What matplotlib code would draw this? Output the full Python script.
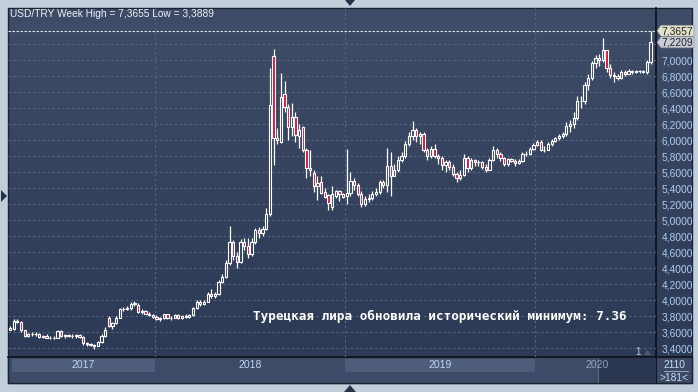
import numpy as np
import matplotlib
matplotlib.use("Agg")
import matplotlib.pyplot as plt
from matplotlib.patches import Rectangle, Polygon
from matplotlib.colors import LinearSegmentedColormap

# --- weekly USD/TRY candles (index 0 = first visible week, spring 2017) ---
opens = [3.63, 3.64, 3.74, 3.72, 3.62, 3.55, 3.58, 3.57, 3.58, 3.54,
         3.55, 3.53, 3.52, 3.53, 3.61, 3.55, 3.56, 3.55, 3.55, 3.56,
         3.54, 3.46, 3.45, 3.44, 3.43, 3.47, 3.55, 3.77, 3.67, 3.71,
         3.78, 3.89, 3.89, 3.90, 3.95, 3.94, 3.85, 3.86, 3.83, 3.81,
         3.79, 3.76, 3.77, 3.82, 3.77, 3.78, 3.81, 3.77, 3.80, 3.79,
         3.81, 3.90, 3.98, 3.95, 3.98, 4.08, 4.05, 4.07, 4.23, 4.29,
         4.46, 4.72, 4.55, 4.48, 4.73, 4.68, 4.57, 4.73, 4.87, 4.84,
         4.89, 5.08, 7.05, 6.03, 5.97, 6.57, 6.41, 6.16, 6.29, 6.05,
         6.16, 5.87, 5.62, 5.59, 5.43, 5.47, 5.35, 5.31, 5.16, 5.30,
         5.36, 5.32, 5.30, 5.34, 5.49, 5.44, 5.32, 5.20, 5.26, 5.28,
         5.33, 5.35, 5.47, 5.44, 5.68, 5.55, 5.62, 5.75, 5.80, 5.95,
         6.05, 6.12, 6.05, 6.08, 5.87, 5.80, 5.89, 5.80, 5.77, 5.69,
         5.73, 5.66, 5.58, 5.52, 5.56, 5.78, 5.65, 5.75, 5.72, 5.72,
         5.66, 5.63, 5.75, 5.87, 5.83, 5.77, 5.70, 5.76, 5.74, 5.71,
         5.74, 5.83, 5.83, 5.89, 5.94, 5.98, 5.88, 5.88, 5.95, 5.99,
         6.02, 6.05, 6.07, 6.18, 6.20, 6.28, 6.49, 6.49, 6.69, 6.78,
         6.96, 7.02, 7.00, 7.12, 6.90, 6.81, 6.80, 6.77, 6.85, 6.83,
         6.86, 6.85, 6.86, 6.86, 6.85, 6.98]
highs = [3.67, 3.76, 3.76, 3.74, 3.63, 3.59, 3.60, 3.60, 3.59, 3.56,
         3.57, 3.55, 3.55, 3.63, 3.63, 3.57, 3.57, 3.57, 3.57, 3.57,
         3.55, 3.47, 3.46, 3.45, 3.49, 3.57, 3.66, 3.80, 3.73, 3.80,
         3.90, 3.91, 3.92, 3.97, 3.99, 3.96, 3.89, 3.87, 3.85, 3.83,
         3.81, 3.79, 3.83, 3.83, 3.80, 3.82, 3.83, 3.81, 3.82, 3.83,
         3.91, 4.00, 4.00, 4.00, 4.10, 4.14, 4.10, 4.25, 4.32, 4.50,
         4.93, 4.75, 4.60, 4.76, 4.77, 4.77, 4.78, 4.90, 4.91, 4.93,
         5.15, 6.90, 7.14, 6.15, 6.84, 6.74, 6.45, 6.46, 6.35, 6.20,
         6.18, 5.90, 5.87, 5.62, 5.55, 5.55, 5.40, 5.33, 5.42, 5.38,
         5.38, 5.34, 5.89, 5.60, 5.52, 5.46, 5.36, 5.30, 5.32, 5.36,
         5.40, 5.50, 5.50, 5.90, 5.85, 5.70, 5.80, 5.85, 5.99, 6.10,
         6.24, 6.15, 6.10, 6.10, 5.90, 5.92, 5.95, 5.83, 5.80, 5.75,
         5.75, 5.70, 5.60, 5.62, 5.82, 5.80, 5.78, 5.76, 5.75, 5.74,
         5.70, 5.78, 5.92, 5.90, 5.85, 5.79, 5.78, 5.78, 5.76, 5.76,
         5.85, 5.86, 5.91, 5.96, 6.00, 6.00, 5.92, 5.97, 6.01, 6.04,
         6.07, 6.10, 6.22, 6.25, 6.35, 6.55, 6.55, 6.72, 6.82, 6.99,
         7.06, 7.08, 7.27, 7.13, 6.95, 6.85, 6.83, 6.88, 6.87, 6.89,
         6.88, 6.88, 6.87, 6.88, 7.00, 7.3657]
lows = [3.62, 3.62, 3.71, 3.60, 3.54, 3.54, 3.55, 3.55, 3.53, 3.52,
        3.52, 3.51, 3.51, 3.52, 3.54, 3.53, 3.54, 3.53, 3.53, 3.53,
        3.44, 3.43, 3.42, 3.3889, 3.42, 3.46, 3.54, 3.66, 3.64, 3.70,
        3.77, 3.86, 3.87, 3.88, 3.92, 3.84, 3.82, 3.82, 3.80, 3.78,
        3.75, 3.74, 3.76, 3.76, 3.75, 3.77, 3.76, 3.76, 3.77, 3.78,
        3.80, 3.89, 3.93, 3.94, 3.97, 4.03, 4.02, 4.06, 4.21, 4.28,
        4.44, 4.50, 4.40, 4.46, 4.62, 4.53, 4.55, 4.70, 4.78, 4.80,
        4.88, 5.05, 5.69, 5.95, 5.96, 6.35, 6.00, 6.05, 5.98, 5.90,
        5.85, 5.52, 5.55, 5.35, 5.25, 5.33, 5.27, 5.12, 5.12, 5.28,
        5.24, 5.27, 5.20, 5.30, 5.38, 5.30, 5.16, 5.18, 5.22, 5.25,
        5.30, 5.33, 5.40, 5.35, 5.30, 5.55, 5.60, 5.72, 5.78, 5.93,
        6.00, 5.98, 5.95, 5.85, 5.75, 5.78, 5.78, 5.70, 5.62, 5.60,
        5.62, 5.55, 5.48, 5.50, 5.55, 5.60, 5.63, 5.68, 5.68, 5.64,
        5.60, 5.62, 5.74, 5.78, 5.74, 5.68, 5.68, 5.72, 5.68, 5.70,
        5.73, 5.80, 5.81, 5.88, 5.92, 5.86, 5.85, 5.87, 5.93, 5.97,
        6.00, 6.03, 6.05, 6.10, 6.15, 6.25, 6.40, 6.45, 6.62, 6.75,
        6.90, 6.93, 6.98, 6.85, 6.78, 6.72, 6.75, 6.76, 6.80, 6.82,
        6.83, 6.84, 6.84, 6.84, 6.83, 6.95]
closes = [3.65, 3.74, 3.72, 3.62, 3.55, 3.58, 3.57, 3.58, 3.54, 3.55,
          3.53, 3.52, 3.53, 3.61, 3.55, 3.56, 3.55, 3.55, 3.56, 3.54,
          3.46, 3.45, 3.44, 3.43, 3.47, 3.55, 3.63, 3.67, 3.71, 3.78,
          3.89, 3.89, 3.90, 3.95, 3.96, 3.85, 3.86, 3.83, 3.81, 3.79,
          3.76, 3.77, 3.82, 3.77, 3.78, 3.81, 3.77, 3.80, 3.79, 3.81,
          3.90, 3.98, 3.95, 3.98, 4.08, 4.05, 4.07, 4.23, 4.29, 4.46,
          4.72, 4.55, 4.48, 4.73, 4.68, 4.57, 4.73, 4.87, 4.84, 4.89,
          5.08, 6.44, 6.03, 6.00, 6.54, 6.41, 6.16, 6.29, 6.06, 6.12,
          5.87, 5.65, 5.65, 5.42, 5.46, 5.34, 5.29, 5.21, 5.33, 5.36,
          5.32, 5.29, 5.34, 5.49, 5.44, 5.32, 5.20, 5.26, 5.28, 5.33,
          5.35, 5.47, 5.44, 5.68, 5.55, 5.62, 5.75, 5.80, 5.95, 6.05,
          6.12, 6.05, 6.08, 5.87, 5.80, 5.89, 5.80, 5.77, 5.69, 5.73,
          5.66, 5.58, 5.52, 5.56, 5.78, 5.65, 5.75, 5.72, 5.72, 5.66,
          5.63, 5.75, 5.87, 5.83, 5.77, 5.70, 5.76, 5.74, 5.71, 5.74,
          5.83, 5.83, 5.89, 5.94, 5.98, 5.88, 5.88, 5.95, 5.99, 6.02,
          6.05, 6.07, 6.18, 6.20, 6.28, 6.49, 6.49, 6.69, 6.78, 6.96,
          7.02, 7.00, 7.12, 6.90, 6.81, 6.80, 6.77, 6.85, 6.83, 6.86,
          6.85, 6.86, 6.86, 6.85, 6.98, 7.2209]

year_labels = ["2017", "2018", "2019", "2020"]
year_first_week = [0, 40, 92, 144]      # index of first candle of each year
y_ticks = [3.4, 3.6, 3.8, 4.0, 4.2, 4.4, 4.6, 4.8, 5.0, 5.2, 5.4, 5.6,
           5.8, 6.0, 6.2, 6.4, 6.6, 6.8, 7.0]
week_high = 7.3655
week_low = 3.3889
tag_high = 7.3657
tag_last = 7.2209
title = "USD/TRY Week High = 7,3655 Low = 3,3889"
note = "Турецкая лира обновила исторический минимум: 7.36"

W, H = 698, 392
fig = plt.figure(figsize=(W / 100, H / 100), dpi=100, facecolor="#c3cedb")
LABEL_FONT = ["Liberation Sans", "DejaVu Sans"]


def pix_axes(zorder):
    a = fig.add_axes([0, 0, 1, 1], zorder=zorder)
    a.set_xlim(0, W)
    a.set_ylim(H, 0)
    a.axis("off")
    a.patch.set_alpha(0)
    return a


base = pix_axes(-2)
# plot + price-scale background with a soft vertical gradient
cmap = LinearSegmentedColormap.from_list("bg", ["#3e4c68", "#2d3a55"])
base.imshow(np.linspace(0, 1, 64).reshape(-1, 1), cmap=cmap, aspect="auto",
            extent=(8, 692, 357, 8), zorder=0)
base.add_patch(Rectangle((8, 357), 648, 26, color="#3d4b67", zorder=1))
base.add_patch(Rectangle((656, 357), 36, 26, color="#3b4965", zorder=1))
base.add_patch(Rectangle((8, 8), 684, 375, fill=False, ec="#1b2232", lw=1, zorder=3))
base.plot([656, 656], [8, 383], color="#0c0f16", lw=1.2, zorder=3)
base.plot([8, 692], [357, 357], color="#0c0f16", lw=1.2, zorder=3)

# --- candles ---
ax = fig.add_axes([8 / W, 1 - 357 / H, 648 / W, 349 / H], zorder=1)
ax.patch.set_alpha(0)
s = 3.66
ax.set_xlim((8 - 10) / s, (656 - 10) / s)
ax.set_ylim(3.4 - 9 / 80, 3.4 + 340 / 80)

x = np.arange(len(closes))
o = np.array(opens)
c = np.array(closes)
hi = np.array(highs)
lo = np.array(lows)
top = np.maximum(o, c)
bot = np.minimum(o, c)

for v in y_ticks + [7.2]:
    ax.axhline(v, color="#56657f", lw=0.8, ls=(0, (2.2, 2.2)), zorder=0)
for i in year_first_week[1:]:
    ax.axvline(i - 0.5, color="#56657f", lw=0.8, ls=(0, (2.2, 2.2)), zorder=0)
ax.axhline(week_high, color="#e4e8ef", lw=0.8, ls=(0, (2.2, 1.4)), zorder=1)

ax.vlines(x, top, hi, color="white", lw=0.9, zorder=2)
ax.vlines(x, lo, bot, color="white", lw=0.9, zorder=2)
face = np.where(c < o, "#dc143c", "none")
ax.bar(x, top - bot, bottom=bot, width=0.62, color=face, edgecolor="white",
       linewidth=0.8, zorder=3)

ax.yaxis.tick_right()
ax.set_yticks(y_ticks)
ax.set_yticklabels([f"{v:.4f}".replace(".", ",") for v in y_ticks],
                   fontsize=7.4, color="#acccf2", family=LABEL_FONT)
ax.tick_params(axis="y", length=0, pad=4)
ax.set_xticks([])
for sp in ax.spines.values():
    sp.set_visible(False)

# --- time scale strip ---
tax = fig.add_axes([8 / W, 1 - 383 / H, 648 / W, 26 / H], zorder=1)
tax.patch.set_alpha(0)
tax.set_xlim(ax.get_xlim())
tax.set_ylim(26, 0)
tax.axis("off")
bands = [(0.5, year_first_week[1] - 0.5), (year_first_week[2] - 0.5, year_first_week[3] - 0.5)]
for a, b in bands:
    tax.add_patch(Rectangle((a, 2), b - a, 13, color="#4e5d79", lw=0))
tax.add_patch(Rectangle((160.7, 1), ax.get_xlim()[1] - 160.7, 25, color="#2b3751", lw=0))
tax.plot([160.7, 160.7], [1, 26], color="#6b7890", lw=0.6)
lab_x = [(bands[0][0] + bands[0][1]) / 2, 65.5, 117.5, 160.5]
for lx, t in zip(lab_x, year_labels):
    tax.text(lx, 8.5, t, ha="center", va="center", fontsize=7.6,
             color="#bdd6f4" if t != "2020" else "#94a2b8", family=LABEL_FONT)

# --- overlay decorations in pixel space ---
ov = pix_axes(5)
ov.text(10, 14, title, color="#eef1f6", fontsize=7.3, va="center", family=LABEL_FONT)
ov.text(253, 316, note, color="white", fontsize=9.1, va="center",
        family="DejaVu Sans Mono", weight="bold")


def y_of(v):
    return 348 - (v - 3.4) * 80


for v, fc in [(tag_high, "#e2e2c6"), (tag_last, "#c9cdd2")]:
    yc = y_of(v)
    ov.add_patch(Polygon([(657, yc), (661, yc - 5.5), (694, yc - 5.5), (694, yc + 5.5),
                          (661, yc + 5.5)], closed=True, fc=fc, ec="#8a8f96", lw=0.5))
    ov.text(661.5, yc + 0.5, f"{v:.4f}".replace(".", ","), fontsize=7.4, color="#1c2030",
            va="center", family=LABEL_FONT)

ov.text(674, 365, "2110", color="#c6dbf3", fontsize=7.4, ha="center", va="center",
        family=LABEL_FONT)
ov.plot([664, 688], [371, 371], color="#9aa8bc", lw=0.7)
ov.text(674, 378, ">181<", color="#c6dbf3", fontsize=7.4, ha="center", va="center",
        family=LABEL_FONT)
ov.text(638, 352, "1", color="#acccf2", fontsize=7, ha="center", va="center",
        family=LABEL_FONT)
ov.add_patch(Polygon([(644, 355), (651, 355), (647.5, 350)], closed=True, fc="#4e5b73", lw=0))

for pts in [[(345, 0), (355, 0), (350, 6)], [(344, 392), (356, 392), (350, 385)],
            [(1, 190), (1, 202), (7, 196)]]:
    ov.add_patch(Polygon(pts, closed=True, fc="#263247", lw=0))

fig.savefig("out.png", dpi=100, facecolor=fig.get_facecolor())
